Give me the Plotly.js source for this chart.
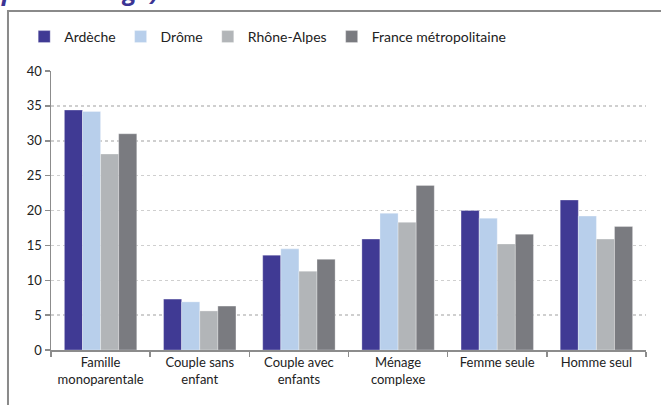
<!DOCTYPE html>
<html>
<head>
<meta charset="utf-8">
<script src="https://cdn.plot.ly/plotly-3.0.1.min.js"></script>
<style>html,body{margin:0;padding:0;background:#fff;}#chart{width:661px;height:405px;}</style>
</head>
<body>
<div id="chart"></div>
<script>
const categories = ["Famille<br>monoparentale", "Couple sans<br>enfant", "Couple avec<br>enfants", "Ménage<br>complexe", "Femme seule", "Homme seul"];
const seriesNames = ["Ardèche", "Drôme", "Rhône-Alpes", "France métropolitaine"];
const ardeche = [34.4, 7.3, 13.6, 15.9, 20.0, 21.5];
const drome = [34.2, 6.9, 14.5, 19.6, 18.9, 19.2];
const rhoneAlpes = [28.1, 5.6, 11.3, 18.3, 15.2, 15.9];
const france = [31.0, 6.3, 13.0, 23.6, 16.6, 17.7];
const colors = ["#403a94", "#b8cfeb", "#b2b5b8", "#7a7b80"];
const values = [ardeche, drome, rhoneAlpes, france];
const yTicks = [0, 5, 10, 15, 20, 25, 30, 35, 40];

const font = "Lato, 'Open Sans', sans-serif";
const legendFont = "'Liberation Sans Narrow', Lato, sans-serif";
const traces = values.map((v, i) => ({
  type: "bar", name: seriesNames[i], x: categories, y: v,
  marker: {color: colors[i], line: {color: "rgba(255,255,255,0.6)", width: 0.5}},
  hoverinfo: "skip"
}));

const layout = {
  width: 661, height: 405,
  margin: {l: 51, r: 15, t: 71, b: 55, autoexpand: false},
  paper_bgcolor: "#fff", plot_bgcolor: "#fff",
  font: {family: font, size: 13, color: "#222"},
  barmode: "group", bargap: 0.27, bargroupgap: 0,
  showlegend: true,
  legend: {orientation: "h", x: 0.405, xanchor: "center", xref: "container",
           y: 1 - 37/405, yanchor: "middle", yref: "container",
           font: {family: legendFont, size: 14, color: "#222"}, itemwidth: 30, traceorder: "normal",
           itemclick: false, bgcolor: "rgba(0,0,0,0)"},
  xaxis: {type: "category", showgrid: false, showline: true, linecolor: "#8c8c8c", linewidth: 1.5,
          ticks: "outside", tickson: "boundaries", ticklen: 5, tickcolor: "#8c8c8c", tickwidth: 1.5,
          tickfont: {family: font, size: 13, color: "#222"}, fixedrange: true, automargin: false},
  yaxis: {range: [0, 40], tickvals: yTicks, ticktext: yTicks.map(String),
          showgrid: true, gridcolor: "#cfcfcf", griddash: "dot", gridwidth: 1.5,
          showline: true, linecolor: "#8c8c8c", linewidth: 1.5,
          ticks: "outside", ticklen: 5, tickcolor: "#8c8c8c", tickwidth: 1.5,
          zeroline: false, tickfont: {family: font, size: 13, color: "#222"}, fixedrange: true, automargin: false},
  shapes: [{type: "rect", xref: "paper", yref: "paper", x0: -0.0723, x1: 1.2, y0: -0.4, y1: 1 + 60/279,
            line: {color: "#8a8a8a", width: 2}, fillcolor: "rgba(0,0,0,0)", layer: "below"}],
  annotations: [{text: "<b><i>pourcentage)</i></b>", xref: "paper", yref: "paper",
                 x: -0.088, xanchor: "left", y: 1 + 62/279, yanchor: "bottom", showarrow: false,
                 font: {family: "'Open Sans', sans-serif", size: 25, color: "#3b3494"}}]
};

Plotly.newPlot("chart", traces, layout, {displayModeBar: false, staticPlot: true});
</script>
</body>
</html>
